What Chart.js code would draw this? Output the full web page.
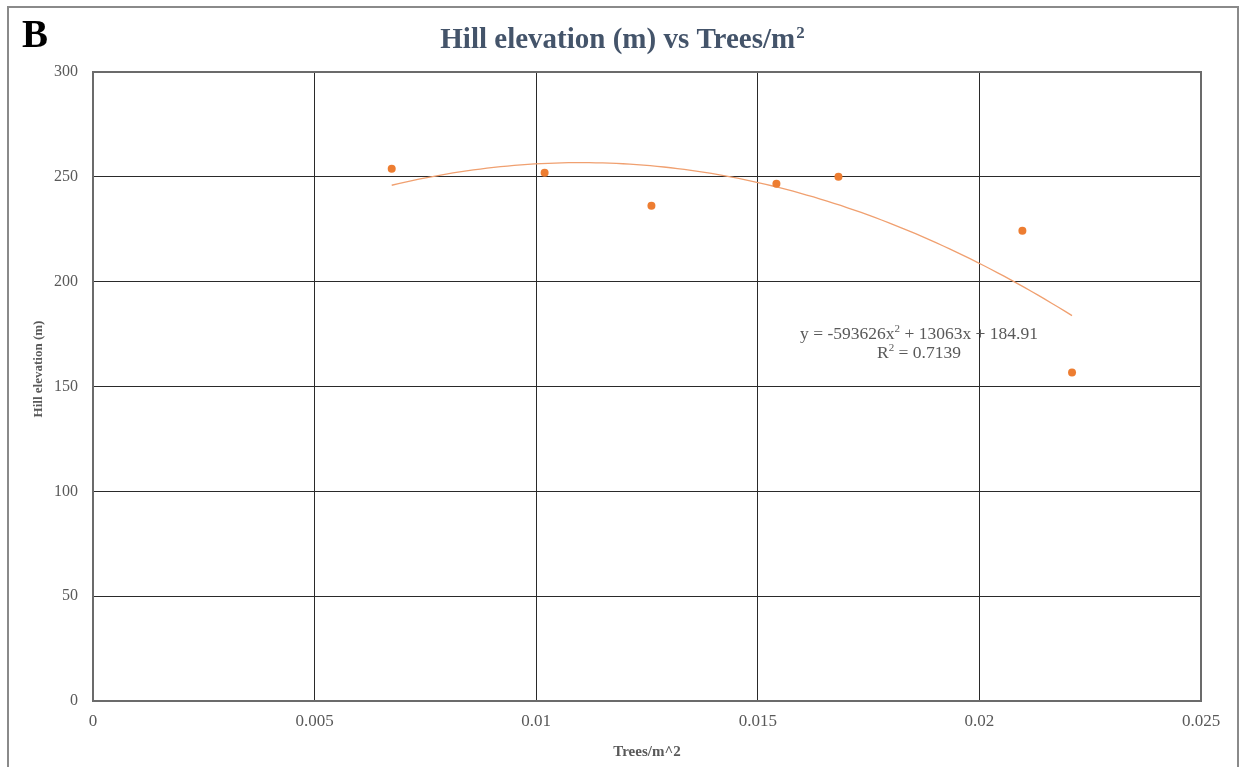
<!DOCTYPE html>
<html>
<head>
<meta charset="utf-8">
<script src="https://cdn.jsdelivr.net/npm/chart.js@4/dist/chart.umd.min.js"></script>
<style>
  html, body { margin: 0; padding: 0; background: #fff; }
  #wrap { width: 1243px; height: 767px; position: relative; }
</style>
</head>
<body>
<div id="wrap"><canvas id="chart" width="1243" height="767"></canvas></div>
<script>
// Tree density (trees per m²) and hill elevation (m) at each site
const treeDensity = [0.00674, 0.01019, 0.0126, 0.01542, 0.01682, 0.02097, 0.02209];
const hillElevation = [253.8, 251.9, 236.2, 246.7, 250.0, 224.3, 156.7];

// Polynomial (order 2) trendline: y = a·x² + b·x + c
const trendCoefficients = [-593626, 13063, 184.91];
const trendRSquared = 0.7139;

// Axis tick values
const xTicks = [0, 0.005, 0.01, 0.015, 0.02, 0.025];
const yTicks = [0, 50, 100, 150, 200, 250, 300];

const panelLetter = 'B';
const chartTitle = 'Hill elevation (m) vs Trees/m';
const xTitle = 'Trees/m^2';
const yTitle = 'Hill elevation (m)';

// Trendline spans the data range
const xMin = Math.min(...treeDensity), xMax = Math.max(...treeDensity);
const trendPoints = [];
for (let i = 0; i <= 100; i++) {
  const x = xMin + (xMax - xMin) * i / 100;
  const [a, b, c] = trendCoefficients;
  trendPoints.push({ x, y: a * x * x + b * x + c });
}

const serif = '"Liberation Serif", "Times New Roman", serif';
const labelGrey = '#595959';
const orange = '#ED7D31';

function drawRuns(ctx, runs, cx, baseline) {
  let total = 0;
  runs.forEach(r => { ctx.font = r[1] + 'px ' + serif; total += ctx.measureText(r[0]).width; });
  let px = cx - total / 2;
  runs.forEach(r => {
    ctx.font = r[1] + 'px ' + serif;
    ctx.fillText(r[0], px, baseline + r[2]);
    px += ctx.measureText(r[0]).width;
  });
}

const decorations = {
  id: 'decorations',
  beforeDraw(chart) {
    const ctx = chart.ctx;
    ctx.save();
    ctx.fillStyle = '#fff';
    ctx.fillRect(0, 0, chart.width, chart.height);
    ctx.restore();
  },
  afterDraw(chart) {
    const ctx = chart.ctx;
    const area = chart.chartArea;
    ctx.save();
    // outer frame
    ctx.strokeStyle = '#8a8a8a';
    ctx.lineWidth = 2;
    ctx.strokeRect(8, 7, 1230, 800);

    // plot border
    ctx.strokeStyle = '#6b6b6b';
    ctx.lineWidth = 2;
    ctx.strokeRect(area.left, area.top, area.right - area.left, area.bottom - area.top);

    // panel letter
    ctx.fillStyle = '#000';
    ctx.font = 'bold 39px ' + serif;
    ctx.textBaseline = 'alphabetic';
    ctx.textAlign = 'left';
    ctx.fillText(panelLetter, 22, 47);

    // title with superscript
    ctx.fillStyle = '#44546A';
    ctx.font = 'bold 29px ' + serif;
    const mainW = ctx.measureText(chartTitle).width;
    ctx.font = 'bold 17px ' + serif;
    const supW = ctx.measureText('2').width;
    const startX = 622 - (mainW + supW) / 2;
    ctx.font = 'bold 29px ' + serif;
    ctx.fillText(chartTitle, startX, 48);
    ctx.font = 'bold 17px ' + serif;
    ctx.fillText('2', startX + mainW + 1, 38);

    // y-axis title
    ctx.save();
    ctx.translate(39, 369);
    ctx.rotate(-Math.PI / 2);
    ctx.fillStyle = labelGrey;
    ctx.font = 'bold 13px ' + serif;
    ctx.textAlign = 'center';
    ctx.textBaseline = 'middle';
    ctx.fillText(yTitle, 0, 0);
    ctx.restore();

    // trendline equation
    ctx.fillStyle = labelGrey;
    ctx.textAlign = 'left';
    ctx.textBaseline = 'alphabetic';
    const [a, b, c] = trendCoefficients;
    drawRuns(ctx, [
      ['y = ' + a + 'x', 17.5, 0],
      ['2', 11, -7],
      [' + ' + b + 'x + ' + c, 17.5, 0]
    ], 919, 339);
    drawRuns(ctx, [
      ['R', 17.5, 0],
      ['2', 11, -7],
      [' = ' + trendRSquared, 17.5, 0]
    ], 919, 358);
    ctx.restore();
  }
};

new Chart(document.getElementById('chart'), {
  type: 'scatter',
  data: {
    datasets: [
      {
        label: 'Hill elevation',
        data: treeDensity.map((x, i) => ({ x, y: hillElevation[i] })),
        backgroundColor: orange,
        borderColor: orange,
        pointRadius: 4,
        pointBorderWidth: 0,
        order: 1
      },
      {
        label: 'Poly. trend',
        data: trendPoints,
        showLine: true,
        borderColor: '#F0A070',
        borderWidth: 1.3,
        pointRadius: 0,
        fill: false,
        tension: 0,
        order: 2
      }
    ]
  },
  options: {
    responsive: false,
    animation: false,
    layout: { padding: { top: 72, right: 42, left: 0, bottom: 0 } },
    plugins: {
      legend: { display: false },
      tooltip: { enabled: false }
    },
    scales: {
      x: {
        type: 'linear',
        min: 0,
        max: 0.025,
        afterBuildTicks: s => { s.ticks = xTicks.map(v => ({ value: v })); },
        afterFit: s => { s.height = 66; },
        ticks: {
          color: labelGrey,
          font: { family: serif, size: 17 },
          padding: 10,
          maxRotation: 0,
          callback: v => String(v)
        },
        grid: { color: '#2a2a2a', lineWidth: 1, drawTicks: false },
        border: { display: false },
        title: {
          display: true,
          text: xTitle,
          color: labelGrey,
          font: { family: serif, size: 15, weight: 'bold' },
          padding: { top: 0, bottom: 6 }
        }
      },
      y: {
        type: 'linear',
        min: 0,
        max: 300,
        afterBuildTicks: s => { s.ticks = yTicks.map(v => ({ value: v })); },
        afterFit: s => { s.width = 93; },
        ticks: {
          color: labelGrey,
          font: { family: serif, size: 16 },
          padding: 15,
          callback: v => String(v)
        },
        grid: { color: '#2a2a2a', lineWidth: 1, drawTicks: false },
        border: { display: false },
        title: { display: false }
      }
    }
  },
  plugins: [decorations]
});
</script>
</body>
</html>
